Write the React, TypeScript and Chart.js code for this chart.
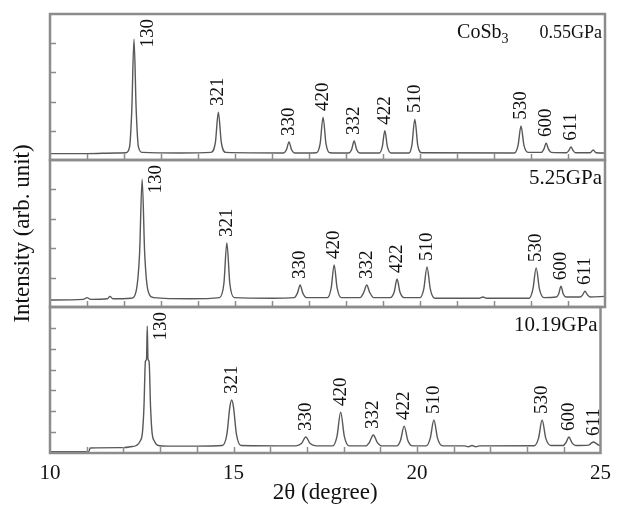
import React, { useEffect, useRef } from 'react';
import { Chart, registerables } from 'chart.js';

Chart.register(...registerables);

const FONT = "'Liberation Serif', 'Times New Roman', Times, serif";
const LINE_COLOR = '#585858';
const FRAME_COLOR = '#8c8c8c';
const TEXT_COLOR = '#111111';

// ---------- data ----------
const xTickLabels = ['10', '15', '20', '25'];
const hkl = ['130', '321', '330', '420', '332', '422', '510', '530', '600', '611'];
const compound = 'CoSb';
const compoundSub = '3';
const pressures = ['0.55GPa', '5.25GPa', '10.19GPa'];

// Panel 1 : 0.55 GPa
const twoTheta1 = [
  10.0, 11.0, 11.8, 12.05, 12.15, 12.21, 12.27, 12.33, 12.39, 12.5, 13.5,
  14.35, 14.47, 14.55, 14.63, 14.75, 16.3, 16.39, 16.46, 16.53, 16.62,
  17.2, 17.3, 17.38, 17.46, 17.56, 18.07, 18.15, 18.22, 18.29, 18.38,
  18.9, 18.98, 19.05, 19.12, 19.22, 19.7, 19.78, 19.86, 19.94, 20.05,
  22.55, 22.65, 22.73, 22.81, 22.92, 23.28, 23.35, 23.41, 23.47, 23.55,
  23.96, 24.02, 24.08, 24.14, 24.2, 24.6, 24.68, 24.76, 25.0,
];
const intensity1 = [
  0.22, 0.22, 0.24, 0.25, 0.45, 1.7, 4.14, 1.7, 0.45, 0.26, 0.24,
  0.26, 0.6, 1.64, 0.6, 0.26, 0.24, 0.35, 0.62, 0.35, 0.24,
  0.25, 0.55, 1.47, 0.55, 0.25, 0.24, 0.35, 0.65, 0.35, 0.24,
  0.24, 0.45, 1.0, 0.45, 0.24, 0.24, 0.5, 1.4, 0.5, 0.25,
  0.24, 0.5, 1.17, 0.5, 0.26, 0.26, 0.38, 0.58, 0.38, 0.26,
  0.25, 0.32, 0.45, 0.32, 0.25, 0.25, 0.34, 0.25, 0.24,
];
const peakPos1 = [12.27, 14.55, 16.46, 17.38, 18.22, 19.05, 19.86, 22.73, 23.41, 24.08];
const peakTop1 = [4.14, 1.64, 0.62, 1.47, 0.65, 1.0, 1.4, 1.17, 0.58, 0.45];

// Panel 2 : 5.25 GPa
const twoTheta2 = [
  10.0, 10.9, 11.0, 11.1, 11.55, 11.62, 11.7, 12.2, 12.33, 12.42, 12.49, 12.56, 12.65, 12.8, 13.8,
  14.58, 14.7, 14.78, 14.86, 14.98, 16.0, 16.6, 16.69, 16.76, 16.83, 16.93,
  17.5, 17.6, 17.68, 17.76, 17.87, 18.38, 18.48, 18.56, 18.64, 18.75,
  19.2, 19.3, 19.38, 19.46, 19.57, 20.0, 20.1, 20.19, 20.28, 20.4,
  21.6, 21.7, 21.8, 22.95, 23.05, 23.14, 23.23, 23.35,
  23.68, 23.75, 23.81, 23.87, 23.95, 24.33, 24.4, 24.46, 24.52, 24.6, 25.0,
];
const intensity2 = [
  0.24, 0.26, 0.32, 0.26, 0.28, 0.36, 0.28, 0.3, 0.55, 1.8, 4.35, 1.8, 0.55, 0.32, 0.28,
  0.32, 0.8, 2.18, 0.8, 0.32, 0.3, 0.32, 0.48, 0.75, 0.48, 0.32,
  0.32, 0.65, 1.43, 0.65, 0.32, 0.32, 0.5, 0.75, 0.5, 0.32,
  0.32, 0.5, 0.95, 0.5, 0.32, 0.32, 0.6, 1.36, 0.6, 0.3,
  0.3, 0.34, 0.3, 0.3, 0.6, 1.33, 0.6, 0.32,
  0.34, 0.45, 0.71, 0.45, 0.34, 0.34, 0.42, 0.54, 0.42, 0.34, 0.36,
];
const peakPos2 = [12.49, 14.78, 16.76, 17.68, 18.56, 19.38, 20.19, 23.14, 23.81, 24.46];
const peakTop2 = [4.35, 2.18, 0.75, 1.43, 0.75, 0.95, 1.36, 1.33, 0.71, 0.54];

// Panel 3 : 10.19 GPa
const twoTheta3 = [
  10.0, 11.05, 11.1, 12.0, 12.2, 12.35, 12.45, 12.52, 12.56, 12.6, 12.63, 12.65, 12.67, 12.7, 12.74, 12.78, 12.85, 12.95, 13.2, 14.0,
  14.7, 14.82, 14.9, 14.95, 15.0, 15.08, 15.2, 16.7, 16.85, 16.97, 17.09, 17.25,
  17.7, 17.82, 17.92, 18.02, 18.15, 18.6, 18.7, 18.81, 18.92, 19.05,
  19.45, 19.55, 19.65, 19.75, 19.88, 20.25, 20.36, 20.46, 20.56, 20.7,
  21.3, 21.4, 21.5, 21.6, 21.7, 23.2, 23.31, 23.41, 23.51, 23.65,
  23.98, 24.06, 24.14, 24.22, 24.32, 24.68, 24.74, 24.81, 24.88, 24.95, 25.0,
];
const intensity3 = [
  0.06, 0.06, 0.24, 0.26, 0.3, 0.36, 0.55, 1.0, 2.2, 4.4, 4.5, 6.08, 4.5, 4.4, 2.2, 1.0, 0.55, 0.36, 0.33, 0.33,
  0.36, 0.9, 2.2, 2.54, 2.2, 0.9, 0.36, 0.34, 0.45, 0.77, 0.45, 0.34,
  0.34, 0.8, 1.96, 0.8, 0.34, 0.34, 0.5, 0.86, 0.5, 0.34,
  0.34, 0.6, 1.29, 0.6, 0.34, 0.34, 0.7, 1.58, 0.7, 0.34,
  0.34, 0.3, 0.36, 0.3, 0.34, 0.35, 0.7, 1.58, 0.7, 0.36,
  0.36, 0.5, 0.77, 0.5, 0.36, 0.38, 0.46, 0.53, 0.46, 0.38, 0.36,
];
const peakPos3 = [12.65, 14.95, 16.97, 17.92, 18.81, 19.65, 20.46, 23.41, 24.14, 24.81];
const peakTop3 = [6.08, 2.54, 0.77, 1.96, 0.86, 1.29, 1.58, 1.58, 0.77, 0.53];

// ---------- plugin ----------
const decorPlugin = {
  id: 'xrdDecor',
  afterDatasetsDraw(chart: any, _args: any, opts: any) {
    const { ctx, chartArea: a, scales } = chart;
    const xs = scales.x;
    const ys = scales.y;
    ctx.save();
    ctx.fillStyle = TEXT_COLOR;
    ctx.font = `19px ${FONT}`;
    ctx.textAlign = 'left';
    ctx.textBaseline = 'middle';
    (opts.hkl || []).forEach((t: string, i: number) => {
      let px = xs.getPixelForValue(opts.pos[i]);
      let py = ys.getPixelForValue(opts.top[i]) - 6;
      const w = ctx.measureText(t).width;
      if (py - w < a.top + 4) {
        px += 14;
        py = a.top + 5 + w;
      }
      ctx.save();
      ctx.translate(px, py);
      ctx.rotate(-Math.PI / 2);
      ctx.fillText(t, 0, 0);
      ctx.restore();
    });
    // pressure + compound
    const size = opts.labelSize;
    ctx.font = `${size}px ${FONT}`;
    ctx.textAlign = 'right';
    ctx.textBaseline = 'alphabetic';
    const rx = a.right - 3;
    const by = a.top + 24;
    ctx.fillText(opts.pressure, rx, by);
    if (opts.compound) {
      const pw = ctx.measureText(opts.pressure).width;
      const endX = rx - pw - 31;
      const csize = opts.compoundSize;
      ctx.font = `${Math.round(csize * 0.7)}px ${FONT}`;
      const sw = ctx.measureText(opts.sub).width;
      ctx.fillText(opts.sub, endX, by + 5);
      ctx.font = `${csize}px ${FONT}`;
      ctx.fillText(opts.compound, endX - sw, by);
    }
    ctx.restore();
  },
  afterDraw(chart: any) {
    const { ctx, chartArea: a, scales } = chart;
    const xs = scales.x;
    const ys = scales.y;
    ctx.save();
    ctx.strokeStyle = FRAME_COLOR;
    ctx.lineWidth = 1.5;
    ctx.beginPath();
    xs.ticks.forEach((t: any) => {
      if (t.value <= xs.min || t.value >= xs.max) return;
      const px = Math.round(xs.getPixelForValue(t.value)) + 0.5;
      ctx.moveTo(px, a.bottom);
      ctx.lineTo(px, a.bottom - 6);
    });
    ys.ticks.forEach((t: any) => {
      if (t.value <= ys.min || t.value >= ys.max) return;
      const py = Math.round(ys.getPixelForValue(t.value)) + 0.5;
      ctx.moveTo(a.left, py);
      ctx.lineTo(a.left + 6, py);
    });
    ctx.stroke();
    ctx.lineWidth = 2.5;
    ctx.strokeRect(a.left, a.top, a.right - a.left, a.bottom - a.top);
    ctx.restore();
  },
};

type PanelSpec = {
  x: number[];
  y: number[];
  pos: number[];
  top: number[];
  ymax: number;
  pressure: string;
  labelSize: number;
  withCompound: boolean;
  padding: { left: number; right: number; top: number; bottom: number };
  showYTitle: boolean;
  showXAxis: boolean;
};

const panels: PanelSpec[] = [
  {
    x: twoTheta1, y: intensity1, pos: peakPos1, top: peakTop1, ymax: 5,
    pressure: pressures[0], labelSize: 18, withCompound: true,
    padding: { left: 50, right: 14, top: 14, bottom: 350 }, showYTitle: false, showXAxis: false,
  },
  {
    x: twoTheta2, y: intensity2, pos: peakPos2, top: peakTop2, ymax: 5,
    pressure: pressures[1], labelSize: 21, withCompound: false,
    padding: { left: 0, right: 14, top: 160, bottom: 203 }, showYTitle: true, showXAxis: false,
  },
  {
    x: twoTheta3, y: intensity3, pos: peakPos3, top: peakTop3, ymax: 7,
    pressure: pressures[2], labelSize: 21, withCompound: false,
    padding: { left: 50, right: 14, top: 307, bottom: 0 }, showYTitle: false, showXAxis: true,
  },
];

function makeConfig(p: PanelSpec): any {
  return {
    type: 'line',
    data: {
      datasets: [
        {
          data: p.x.map((v, i) => ({ x: v, y: p.y[i] })),
          borderColor: LINE_COLOR,
          borderWidth: 1.4,
          pointRadius: 0,
          fill: false,
          cubicInterpolationMode: 'monotone',
          tension: 0.4,
        },
      ],
    },
    plugins: [decorPlugin],
    options: {
      responsive: false,
      animation: false,
      devicePixelRatio: 1,
      layout: { padding: p.padding },
      plugins: {
        legend: { display: false },
        tooltip: { enabled: false },
        xrdDecor: {
          hkl,
          pos: p.pos,
          top: p.top,
          pressure: p.pressure,
          labelSize: p.labelSize,
          compound: p.withCompound ? compound : '',
          compoundSize: 20,
          sub: compoundSub,
        },
      },
      scales: {
        x: {
          type: 'linear',
          min: 10,
          max: 25,
          display: p.showXAxis,
          afterFit: (s: any) => { if (p.showXAxis) s.height = 57; },
          grid: { display: false, drawTicks: false },
          border: { display: false },
          ticks: {
            stepSize: 1,
            autoSkip: false,
            maxRotation: 0,
            padding: 8,
            color: TEXT_COLOR,
            font: { family: FONT, size: 21 },
            callback: (v: number) => {
              const s = String(v);
              return xTickLabels.includes(s) ? s : '';
            },
          },
          title: {
            display: true,
            text: '2θ (degree)',
            color: TEXT_COLOR,
            font: { family: FONT, size: 23 },
            padding: { top: 0, bottom: 3 },
          },
        },
        y: {
          type: 'linear',
          min: 0,
          max: p.ymax,
          display: p.showYTitle,
          afterFit: (s: any) => { if (p.showYTitle) s.width = 50; },
          grid: { display: false, drawTicks: false },
          border: { display: false },
          ticks: { stepSize: 1, display: false },
          title: {
            display: true,
            text: 'Intensity (arb. unit)',
            color: TEXT_COLOR,
            font: { family: FONT, size: 23 },
            padding: { top: 9, bottom: 0 },
          },
        },
      },
    },
  };
}

function Panel({ spec }: { spec: PanelSpec }) {
  const ref = useRef<HTMLCanvasElement | null>(null);
  useEffect(() => {
    if (!ref.current) return;
    const chart = new Chart(ref.current, makeConfig(spec));
    return () => chart.destroy();
  }, [spec]);
  return (
    <canvas
      ref={ref}
      width={619}
      height={510}
      style={{ position: 'absolute', left: 0, top: 0, width: 619, height: 510 }}
    />
  );
}

export default function App() {
  return (
    <div style={{ position: 'absolute', left: 0, top: 0, width: 619, height: 510, background: '#fff' }}>
      {panels.map((p, i) => (
        <Panel key={i} spec={p} />
      ))}
    </div>
  );
}
